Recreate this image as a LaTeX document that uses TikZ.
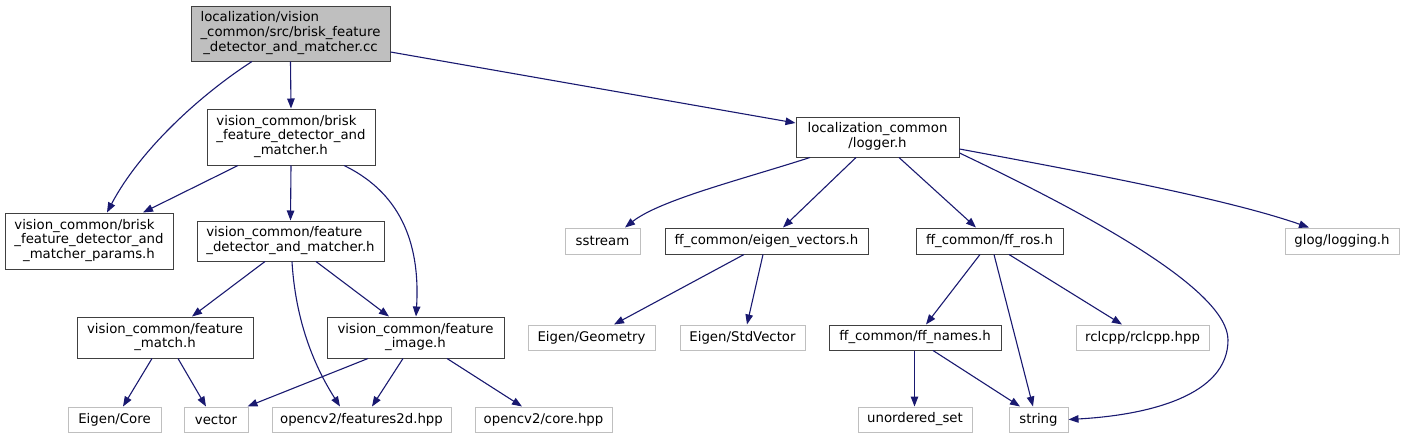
\documentclass[tikz,border=0pt]{standalone}
\usepackage{fontspec}
\setmainfont{DejaVu Sans}
\usetikzlibrary{arrows.meta}
\definecolor{edgeblue}{HTML}{191970}
\definecolor{grayfill}{HTML}{BFBFBF}
\definecolor{boxborder}{HTML}{404040}
\newcommand{\threelbl}[3]{\begin{tabular}{@{}l@{}}#1\\#2\\\multicolumn{1}{@{}c@{}}{#3}\end{tabular}}
\newcommand{\twolbl}[2]{\begin{tabular}{@{}l@{}}#1\\\multicolumn{1}{@{}c@{}}{#2}\end{tabular}}
\tikzset{
  file/.style={draw=boxborder, line width=1pt, fill=white, inner sep=0pt, align=center,
    font=\fontsize{13.3}{14.6}\selectfont},
  extfile/.style={file, draw=grayfill},
  rootfile/.style={file, fill=grayfill},
  dep/.style={draw=edgeblue, line width=1.1pt, -{Triangle[length=10pt,width=7.5pt]}, fill=none},
}
\begin{document}
\begin{tikzpicture}[x=1pt,y=-1pt]
\useasboundingbox (0,0) rectangle (1401,439);
% nodes
\node[rootfile, minimum width=199pt, minimum height=55pt] (root) at (290.5,33.5)
  {\threelbl{localization/vision}{\_common/src/brisk\_feature}{\_detector\_and\_matcher.cc}};
\node[file, minimum width=168pt, minimum height=56pt] (B) at (291,137)
  {\threelbl{vision\_common/brisk}{\_feature\_detector\_and}{\_matcher.h}};
\node[file, minimum width=168pt, minimum height=56pt] (P) at (89,241)
  {\threelbl{vision\_common/brisk}{\_feature\_detector\_and}{\_matcher\_params.h}};
\node[file, minimum width=187pt, minimum height=40pt] (F) at (290.5,241)
  {\twolbl{vision\_common/feature}{\_detector\_and\_matcher.h}};
\node[file, minimum width=176pt, minimum height=41pt] (M) at (165,337.5)
  {\twolbl{vision\_common/feature}{\_match.h}};
\node[file, minimum width=177pt, minimum height=41pt] (I) at (415.5,337.5)
  {\twolbl{vision\_common/feature}{\_image.h}};
\node[extfile, minimum width=93pt, minimum height=25pt] (EC) at (114.5,419.5) {Eigen/Core};
\node[extfile, minimum width=64pt, minimum height=25pt] (V) at (216,419.5) {vector};
\node[extfile, minimum width=179pt, minimum height=25pt] (F2) at (361.5,419.5) {opencv2/features2d.hpp};
\node[extfile, minimum width=137pt, minimum height=25pt] (CH) at (543.5,419.5) {opencv2/core.hpp};
\node[file, minimum width=163pt, minimum height=40pt] (L) at (877.5,137)
  {\twolbl{localization\_common}{/logger.h}};
\node[extfile, minimum width=75pt, minimum height=26pt] (SS) at (602.5,241) {sstream};
\node[file, minimum width=203pt, minimum height=26pt] (EV) at (766.5,241) {ff\_common/eigen\_vectors.h};
\node[file, minimum width=147pt, minimum height=26pt] (R) at (989.5,241) {ff\_common/ff\_ros.h};
\node[extfile, minimum width=114pt, minimum height=26pt] (G) at (1342,241) {glog/logging.h};
\node[extfile, minimum width=127pt, minimum height=25pt] (EG) at (591.5,337.5) {Eigen/Geometry};
\node[extfile, minimum width=125pt, minimum height=25pt] (ESV) at (742.5,337.5) {Eigen/StdVector};
\node[file, minimum width=172pt, minimum height=25pt] (N) at (915,337.5) {ff\_common/ff\_names.h};
\node[extfile, minimum width=133pt, minimum height=25pt] (RC) at (1142.5,337.5) {rclcpp/rclcpp.hpp};
\node[extfile, minimum width=114pt, minimum height=25pt] (U) at (915,419.5) {unordered\_set};
\node[extfile, minimum width=59pt, minimum height=25pt] (S) at (1038.5,419.5) {string};
% edges
\draw[dep] ([xshift=-38.5pt]root.south) .. controls (200,95) and (140,150) .. ([xshift=18pt]P.north);
\draw[dep] (root.south) -- (B.north);
\draw[dep] ([yshift=-18.5pt]root.east) -- ([yshift=14pt]L.west);
\draw[dep] ([xshift=-53pt]B.south) -- ([xshift=54pt]P.north);
\draw[dep] (B.south) -- (F.north);
\draw[dep] ([xshift=53pt]B.south) .. controls (405,195) and (420,250) .. ([xshift=0.5pt]I.north);
\draw[dep] ([xshift=-25.5pt]F.south) -- ([xshift=27pt]M.north);
\draw[dep] ([xshift=1.5pt]F.south) .. controls (296,330) and (320,375) .. ([xshift=-21.5pt]F2.north);
\draw[dep] ([xshift=25.5pt]F.south) -- ([xshift=-26.5pt]I.north);
\draw[dep] ([xshift=-13pt]M.south) -- ([xshift=8.5pt]EC.north);
\draw[dep] ([xshift=13pt]M.south) -- ([xshift=-10pt]V.north);
\draw[dep] ([xshift=-47.5pt]I.south) -- ([xshift=-1pt]V.north east);
\draw[dep] ([xshift=-12.5pt]I.south) -- ([xshift=10.5pt]F2.north);
\draw[dep] ([xshift=31.5pt]I.south) -- ([xshift=-21.5pt]CH.north);
\draw[dep] ([xshift=-67.5pt]L.south) .. controls (740,180) and (660,200) .. ([xshift=22.5pt]SS.north);
\draw[dep] ([xshift=-21.5pt]L.south) -- ([xshift=16.5pt]EV.north);
\draw[dep] ([xshift=21.5pt]L.south) -- ([xshift=-13.5pt]R.north);
\draw[dep] ([yshift=-16pt]L.east) .. controls (1090,215) and (1228,290) .. (1228,340)
  .. controls (1228,395) and (1150,415) .. (S.east);
\draw[dep] ([yshift=-12pt]L.east) .. controls (1100,175) and (1230,200) .. ([xshift=-33pt]G.north);
\draw[dep] ([xshift=-22.5pt]EV.south) -- ([xshift=22.5pt]EG.north);
\draw[dep] ([xshift=-3.5pt]EV.south) -- ([xshift=4.5pt]ESV.north);
\draw[dep] ([xshift=-9.5pt]R.south) -- ([xshift=11pt]N.north);
\draw[dep] ([xshift=4.5pt]R.south) -- ([xshift=-5.5pt]S.north);
\draw[dep] ([xshift=19.5pt]R.south) -- ([xshift=-20.5pt]RC.north);
\draw[dep] ([xshift=-0.5pt]N.south) -- ([xshift=-0.5pt]U.north);
\draw[dep] ([xshift=18pt]N.south) -- ([xshift=-18.5pt]S.north);
\end{tikzpicture}
\end{document}
